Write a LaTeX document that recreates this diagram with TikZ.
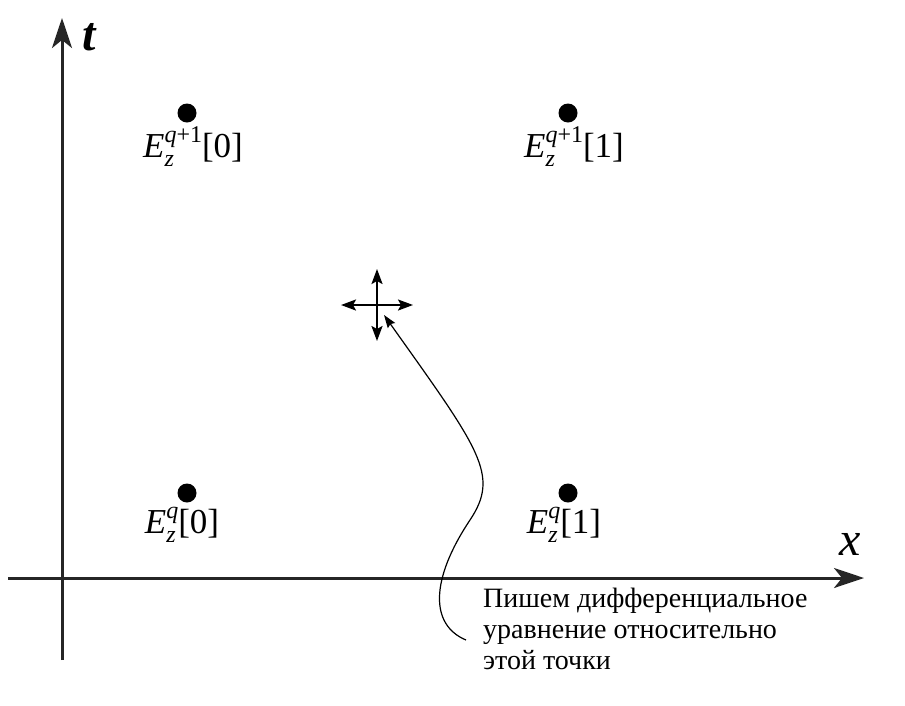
\documentclass[tikz,border=0pt]{standalone}
\usepackage{fontspec}
\setmainfont{Liberation Serif}
\usetikzlibrary{arrows.meta}
\newcommand{\Elab}[2]{\textit{E}\rlap{\raisebox{-0.28em}{\fontsize{24}{24}\selectfont\textit{z}}}\raisebox{0.42em}{\fontsize{24}{24}\selectfont #1}[#2]}
\begin{document}
\begin{tikzpicture}[x=1pt,y=-1pt,
  axis/.style={line width=3pt,draw=black!85,-{Stealth[length=30pt,width=20pt,inset=8pt]}},
  crossarr/.style={line width=2.2pt,{Stealth[length=15pt,width=11pt,inset=3pt]}-{Stealth[length=15pt,width=11pt,inset=3pt]}},
  gridpt/.style={circle,fill=black,inner sep=0pt,minimum size=19pt},
  lab/.style={font=\fontsize{35}{35}\selectfont,inner sep=0pt,anchor=base},
  note/.style={font=\fontsize{28}{31}\selectfont,align=left,inner sep=0pt,anchor=north west}]
\useasboundingbox (0,0) rectangle (905,705);
\coordinate (ys) at (62,660);
\coordinate (ye) at (62,18);
\coordinate (xs) at (8,578);
\coordinate (xe) at (864,578);
\draw[axis] (ys) -- (ye);
\draw[axis] (xs) -- (xe);
\node[font=\fontsize{48}{48}\selectfont\bfseries\itshape,anchor=base] (tl) at (89,50) {t};
\node[font=\fontsize{48}{48}\selectfont\itshape,anchor=base] (xl) at (850,555) {x};
\node[gridpt] (p00) at (187,113) {};
\node[gridpt] (p10) at (568,113) {};
\node[gridpt] (p01) at (187,493) {};
\node[gridpt] (p11) at (568,493) {};
\node[lab] (l00) at (193,157) {\Elab{\textit{q}+1}{0}};
\node[lab] (l10) at (574,157) {\Elab{\textit{q}+1}{1}};
\node[lab] (l01) at (182,533) {\Elab{\textit{q}}{0}};
\node[lab] (l11) at (564,533) {\Elab{\textit{q}}{1}};
\coordinate (c) at (377,305);
\coordinate (cl) at (341,305);
\coordinate (cr) at (413,305);
\coordinate (ct) at (377,269);
\coordinate (cb) at (377,341);
\draw[crossarr] (cl) -- (cr);
\draw[crossarr] (ct) -- (cb);
\node[note] (txt) at (483,588) {Пишем дифференциальное\\уравнение относительно\\этой точки};
\coordinate (cs) at (466,640);
\coordinate (ca) at (384,315);
\draw[line width=1.2pt,-{Stealth[length=13pt,width=9pt,inset=2pt]}] (cs) .. controls (430,625) and (430,580) .. (470,520) .. controls (500,475) and (480,450) .. (ca);
\end{tikzpicture}
\end{document}
